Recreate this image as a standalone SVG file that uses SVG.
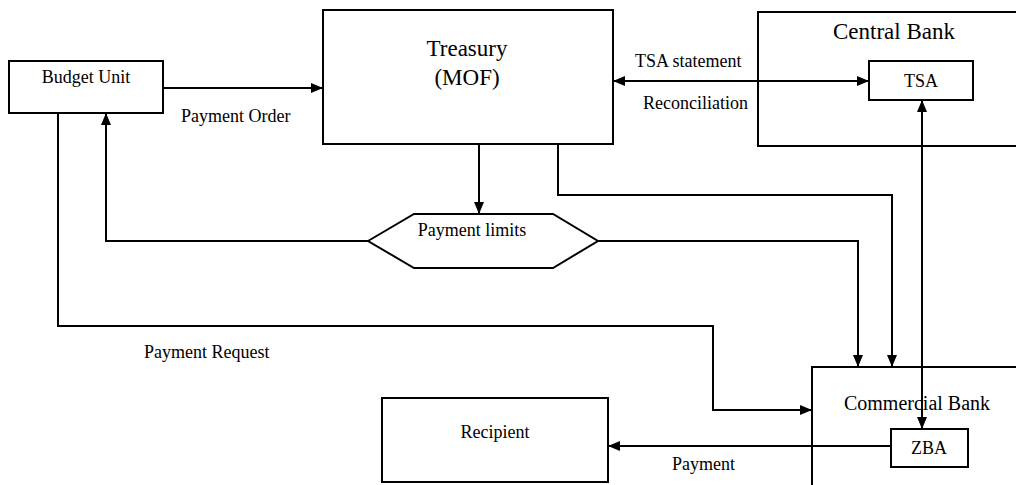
<svg xmlns="http://www.w3.org/2000/svg" width="1016" height="485" viewBox="0 0 1016 485" font-family="'Liberation Serif', 'DejaVu Serif', serif">
<style>
.box{fill:#fff;stroke:#000;stroke-width:2}
.ln{fill:none;stroke:#000;stroke-width:2}
text{font-family:'Liberation Serif','DejaVu Serif',serif;fill:#000}
.s{font-size:18px}
.l{font-size:23px}
.m{font-size:20px}
</style>
<defs>
<marker id="ah" markerUnits="userSpaceOnUse" markerWidth="12" markerHeight="10" refX="11" refY="5" orient="auto-start-reverse" viewBox="0 0 12 10">
<path d="M0,0 L12,5 L0,10 z" fill="#000"/>
</marker>
</defs>
<rect width="1016" height="485" fill="#fff"/>
<g id="central-bank">
<rect class="box" x="758" y="12" width="300" height="134"/>
<text class="l" x="894" y="39" text-anchor="middle">Central Bank</text>
</g>
<g id="tsa">
<rect class="box" x="869" y="61" width="104" height="39"/>
<text class="s" x="921" y="87" text-anchor="middle">TSA</text>
</g>
<g id="commercial-bank">
<rect class="box" x="812" y="367" width="260" height="200"/>
<text class="m" x="917" y="410" text-anchor="middle">Commercial Bank</text>
</g>
<g id="zba">
<rect class="box" x="891" y="429" width="77" height="38"/>
<text class="s" x="929" y="454" text-anchor="middle">ZBA</text>
</g>
<g id="budget-unit">
<rect class="box" x="9" y="61" width="154" height="52"/>
<text class="s" x="86" y="83" text-anchor="middle">Budget Unit</text>
</g>
<g id="treasury">
<rect class="box" x="323" y="10" width="290" height="134"/>
<text class="l" x="467" y="56" text-anchor="middle">Treasury</text>
<text class="l" x="467" y="85" text-anchor="middle">(MOF)</text>
</g>
<g id="payment-limits">
<polygon class="box" points="368,241 414,214 553,214 598,241 553,268 414,268"/>
<text class="s" x="472" y="236" text-anchor="middle">Payment limits</text>
</g>
<g id="recipient">
<rect class="box" x="382" y="398" width="226" height="84"/>
<text class="s" x="495" y="438" text-anchor="middle">Recipient</text>
</g>
<g id="connectors">
<line class="ln" x1="163" y1="88" x2="322" y2="88" marker-end="url(#ah)"/>
<line class="ln" x1="614" y1="81" x2="868" y2="81" marker-start="url(#ah)" marker-end="url(#ah)"/>
<line class="ln" x1="922" y1="101" x2="922" y2="428" marker-start="url(#ah)" marker-end="url(#ah)"/>
<line class="ln" x1="479" y1="144" x2="479" y2="213" marker-end="url(#ah)"/>
<polyline class="ln" points="368,241 106,241 106,114" marker-end="url(#ah)"/>
<polyline class="ln" points="598,241 858,241 858,366" marker-end="url(#ah)"/>
<polyline class="ln" points="558,144 558,195 892,195 892,366" marker-end="url(#ah)"/>
<polyline class="ln" points="58,113 58,326 713,326 713,410 811,410" marker-end="url(#ah)"/>
<line class="ln" x1="891" y1="446" x2="609" y2="446" marker-end="url(#ah)"/>
<text class="s" x="181" y="122">Payment Order</text>
<text class="s" x="635" y="67">TSA statement</text>
<text class="s" x="643" y="109">Reconciliation</text>
<text class="s" x="144" y="358">Payment Request</text>
<text class="s" x="672" y="470">Payment</text>
</g>
</svg>
